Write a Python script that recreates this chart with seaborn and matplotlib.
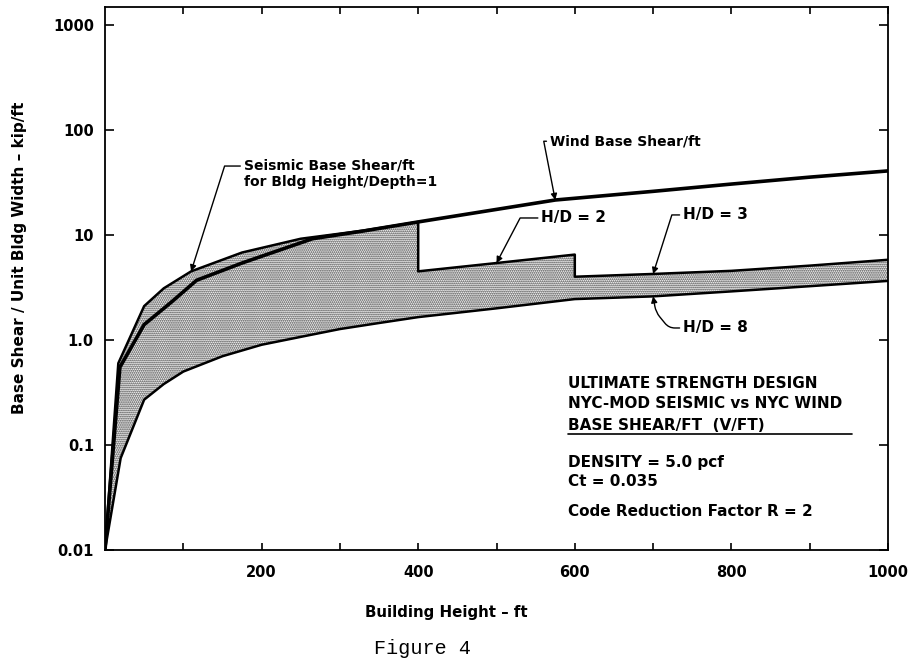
import numpy as np
import pandas as pd
import matplotlib
matplotlib.use("Agg")
import matplotlib.pyplot as plt
from matplotlib.lines import Line2D
from matplotlib.ticker import NullLocator
import seaborn as sns

# --- values: height in ft, base shear in kip/ft ---
wind_height = [0, 19, 50, 85, 117, 175, 265, 330, 400, 500, 575, 700, 800, 900, 1000]
wind_shear = [0.01, 0.55, 1.4, 2.3, 3.7, 5.4, 9.2, 10.9, 13.3, 17.5, 21.5, 26.0, 30.5, 35.5, 40.7]

hd1_height = [0, 17, 50, 75, 110, 175, 250, 330, 400]
hd1_shear = [0.01, 0.6, 2.1, 3.1, 4.5, 6.8, 9.2, 11.0, 13.3]

hd2_height = [400, 500, 600]
hd2_shear = [4.5, 5.4, 6.5]

hd3_height = [600, 700, 800, 900, 1000]
hd3_shear = [4.0, 4.25, 4.55, 5.1, 5.8]

hd8_height = [0, 20, 50, 75, 100, 150, 200, 250, 300, 350, 400, 500, 600, 700, 800, 900, 1000]
hd8_shear = [0.01, 0.075, 0.27, 0.38, 0.5, 0.7, 0.9, 1.07, 1.27, 1.45, 1.65, 2.0, 2.45, 2.6, 2.9, 3.25, 3.65]

y_ticks = [0.01, 0.1, 1, 10, 100, 1000]
y_tick_labels = ["0.01", "0.1", "1.0", "10", "100", "1000"]
x_ticks = [200, 400, 600, 800, 1000]
x_minor_ticks = [100, 300, 500, 700, 900]

box_lines = ["ULTIMATE STRENGTH DESIGN", "NYC-MOD SEISMIC vs NYC WIND", "BASE SHEAR/FT  (V/FT)"]
box_notes = ["DENSITY = 5.0 pcf", "Ct = 0.035", "Code Reduction Factor R = 2"]

# ==============================================================================
# --- style ---
# ==============================================================================
sns.set_style("ticks")
plt.rcParams["font.family"] = ["DejaVu Sans"]
plt.rcParams["font.weight"] = "bold"
plt.rcParams["text.color"] = "black"
plt.rcParams["hatch.linewidth"] = 0.9

W, H = 915, 670
fig = plt.figure(figsize=(W / 100, H / 100), dpi=100)
ax = fig.add_axes([105 / W, 1 - 550 / H, (888 - 105) / W, (550 - 7) / H])

# --- seismic envelope (H/D=1..3 upper, H/D=8 lower) ---
upper = pd.DataFrame({"height": hd1_height + hd2_height + hd3_height,
                      "shear": hd1_shear + hd2_shear + hd3_shear})
lower = pd.DataFrame({"height": hd8_height, "shear": hd8_shear})
wind = pd.DataFrame({"height": wind_height, "shear": wind_shear})

ax.fill(np.r_[upper["height"], lower["height"][::-1]],
        np.r_[upper["shear"], lower["shear"][::-1]],
        facecolor="white", edgecolor="#333333", hatch="........", lw=0, zorder=1)

sns.lineplot(data=upper, x="height", y="shear", sort=False, estimator=None,
             color="black", lw=1.8, ax=ax, zorder=3)
sns.lineplot(data=lower, x="height", y="shear", sort=False, estimator=None,
             color="black", lw=1.8, ax=ax, zorder=3)
sns.lineplot(data=wind, x="height", y="shear", sort=False, estimator=None,
             color="black", lw=2.6, ax=ax, zorder=4)

ax.set_yscale("log")
ax.set_xlim(0, 1000)
ax.set_ylim(0.01, 1480)
ax.set_yticks(y_ticks, y_tick_labels)
ax.yaxis.set_minor_locator(NullLocator())
ax.set_xticks(x_ticks, [str(v) for v in x_ticks])
ax.set_xticks(x_minor_ticks, minor=True)
ax.set_xlabel("")
ax.set_ylabel("")
ax.tick_params(axis="both", which="both", direction="in", top=True, right=True,
               width=1.2, color="black", labelsize=10.5, labelcolor="black")
ax.tick_params(axis="y", which="major", length=6.5, pad=8)
ax.tick_params(axis="x", which="both", length=5, pad=11)
for sp in ax.spines.values():
    sp.set_color("black")
    sp.set_linewidth(1.3)

# --- leader annotations ---
def leader(text, tip, pos, arm, conn=None, rely=0.5, size=10):
    style = conn or f"arc,angleA=180,armA={arm},armB=0,rad=0"
    ax.annotate(text, xy=tip, xytext=pos, ha="left", va="center", fontsize=size,
                linespacing=1.25,
                arrowprops=dict(arrowstyle="-|>", connectionstyle=style, color="black",
                                lw=1.0, mutation_scale=9, shrinkA=0, shrinkB=0,
                                relpos=(0, rely)), zorder=5)

leader("Seismic Base Shear/ft\nfor Bldg Height/Depth=1", (hd1_height[4], hd1_shear[4]),
       (177, 38.0), 19, rely=0.76)
leader("Wind Base Shear/ft", (wind_height[10], wind_shear[10]), (568, 78), 6)
leader("H/D = 2", (hd2_height[1], hd2_shear[1]), (557, 14.5), 21, size=11)
leader("H/D = 3", (hd3_height[1], hd3_shear[1]), (738, 15.5), 11, size=11)
leader("H/D = 8", (hd8_height[13], hd8_shear[13]), (738, 1.3), 0, size=11,
       conn="arc,angleA=180,armA=14,angleB=-80,armB=16,rad=6")

# --- legend block ---
for i, line in enumerate(box_lines):
    fig.text(568 / W, 1 - (383 + 21 * i) / H, line, fontsize=11, va="center", ha="left")
fig.add_artist(Line2D([568 / W, 852 / W], [1 - 434 / H] * 2, color="black", lw=1.2))
for line, ypx in zip(box_notes, [462, 482, 512]):
    fig.text(568 / W, 1 - ypx / H, line, fontsize=11, va="center", ha="left")

# --- axis titles and caption ---
fig.text(20 / W, 1 - 258 / H, "Base Shear / Unit Bldg Width – kip/ft", rotation=90,
         fontsize=11, ha="center", va="center")
fig.text(446 / W, 1 - 612 / H, "Building Height – ft", fontsize=10.8, ha="center", va="center")
fig.text(422 / W, 1 - 648 / H, "Figure 4", family=["Liberation Mono", "DejaVu Sans Mono"],
         fontweight="normal", fontsize=14.5, ha="center", va="center")

fig.savefig("out.png", dpi=100)
